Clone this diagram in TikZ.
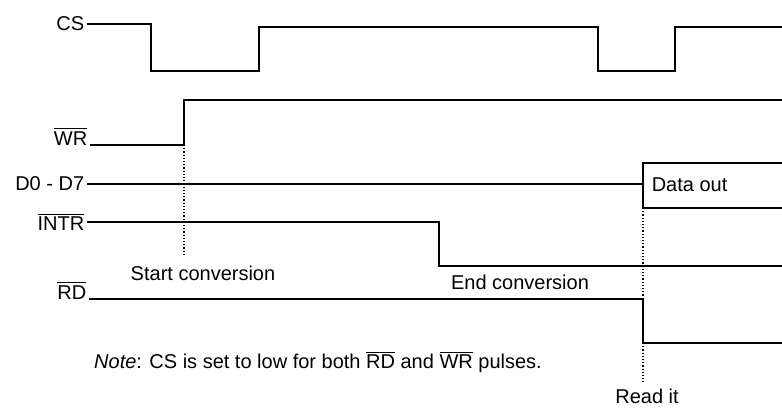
\documentclass[tikz,border=0pt]{standalone}
\usepackage{fontspec}
\setmainfont{Liberation Sans}
\begin{document}
\begin{tikzpicture}[x=0.5pt,y=-0.5pt,line width=0.8pt,
  lbl/.style={font=\fontsize{10}{12}\selectfont,inner sep=1pt},
  guide/.style={densely dotted,line width=0.6pt}]
\useasboundingbox (0,0) rectangle (782,409);

% --- signal names
\node[lbl,anchor=east] (cs) at (87,24) {CS};
\node[lbl,anchor=south east] (wr) at (90,148) {$\overline{\mbox{WR}}$};
\node[lbl,anchor=east] (data) at (87,184) {D0 - D7};
\node[lbl,anchor=east] (intr) at (87,222) {$\overline{\mbox{INTR}}$};
\node[lbl,anchor=south east] (rd) at (89,302) {$\overline{\mbox{RD}}$};

% --- edges where the guide lines start
\coordinate (wrrise) at (184,145);
\coordinate (rdfall) at (643,299);
\coordinate (rdlow) at (643,343);
\coordinate (dbottom) at (643,208);

% --- waveforms
\draw (cs.east) -- (151,24) -- (151,71) -- (259,71) -- (259,27) -- (598,27)
      -- (598,71) -- (675,71) -- (675,27) -- (782,27); % chip select
\draw (wr.south east |- wrrise) -- (wrrise) -- (184,100) -- (782,100); % write
\draw (data.east) -- (643,184); % bus idle
\draw (782,163) -- (643,163) -- (dbottom) -- (782,208); % data valid
\draw (intr.east) -- (439,222) -- (439,266) -- (782,266); % interrupt
\draw (rd.south east |- rdfall) -- (rdfall) -- (rdlow) -- (782,343); % read

% --- labels on the timing
\node[lbl,anchor=west] (dout) at (649,185) {Data out};
\node[lbl] (start) at (203,273) {Start conversion};
\node[lbl] (endc) at (520,282) {End conversion};
\node[lbl] (readit) at (647,396) {Read it};
\node[lbl] (note) at (318,362) {\textit{Note}: CS is set to low for both $\overline{\mbox{RD}}$ and $\overline{\mbox{WR}}$ pulses.};

% --- dotted guides
\draw[guide] (wrrise) -- (184,254);
\draw[guide] (dbottom) -- (rdfall);
\draw[guide] (rdlow) -- (643,382);
\end{tikzpicture}
\end{document}
